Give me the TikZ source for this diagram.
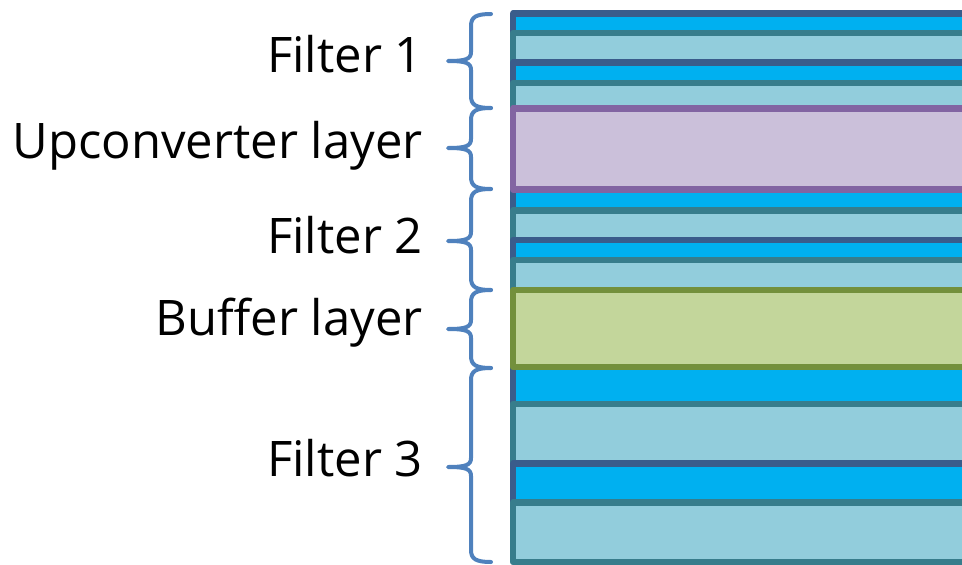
\documentclass[tikz,border=0pt]{standalone}
\usepackage{fontspec}
\setmainfont{Open Sans}
\definecolor{brightblue}{HTML}{00B0F0}
\definecolor{darkedge}{HTML}{3A5C8B}
\definecolor{lightblue}{HTML}{92CDDC}
\definecolor{tealedge}{HTML}{377D8C}
\definecolor{lavender}{HTML}{CBC0DA}
\definecolor{purpleedge}{HTML}{8264A2}
\definecolor{greenfill}{HTML}{C3D69B}
\definecolor{oliveedge}{HTML}{73903C}
\definecolor{bracecol}{HTML}{4F81BD}
\tikzset{
  layer/.style={line width=6.5pt, line join=round},
  brightlayer/.style={layer, fill=brightblue, draw=darkedge},
  lightlayer/.style={layer, fill=lightblue, draw=tealedge},
  upconv/.style={layer, fill=lavender, draw=purpleedge},
  bufferl/.style={layer, fill=greenfill, draw=oliveedge},
  bracestyle/.style={draw=bracecol, line width=4pt, line cap=round, line join=round},
  lbl/.style={anchor=base east, inner sep=0pt, font=\fontsize{49}{57}\selectfont}
}
\newcommand{\drawlayerbrace}[3]{%
  \draw[bracestyle] (491,#1) .. controls (476,#1) and (471,#1+3) .. (471,#1+12)
    -- (471,#3-9) .. controls (471,#3-2) and (466,#3) .. (448,#3)
    .. controls (466,#3) and (471,#3+2) .. (471,#3+9)
    -- (471,#2-12) .. controls (471,#2-3) and (476,#2) .. (491,#2);}
\begin{document}
\begin{tikzpicture}[x=1pt,y=-1pt]
\useasboundingbox (0,0) rectangle (962,565);
\begin{scope}
\clip (0,0) rectangle (962,565);
% Filter 1
\draw[brightlayer] (513,13.5) rectangle (990,33);
\draw[lightlayer] (513,33) rectangle (990,62.5);
\draw[brightlayer] (513,62.5) rectangle (990,83);
\draw[lightlayer] (513,83) rectangle (990,108.5);
% Filter 2 first bright layer (under upconverter edge)
\draw[brightlayer] (513,189.5) rectangle (990,210.5);
% Upconverter
\draw[upconv] (513,108.5) rectangle (990,189.5);
% Filter 2
\draw[lightlayer] (513,210.5) rectangle (990,240);
\draw[brightlayer] (513,240) rectangle (990,260);
\draw[lightlayer] (513,260) rectangle (990,290);
% Filter 3 first bright layer (under buffer edge)
\draw[brightlayer] (513,367) rectangle (990,404);
% Buffer
\draw[bufferl] (513,290) rectangle (990,367);
% Filter 3
\draw[lightlayer] (513,404) rectangle (990,463.5);
\draw[brightlayer] (513,463.5) rectangle (990,502.5);
\draw[lightlayer] (513,502.5) rectangle (990,562);
\end{scope}
% braces
\drawlayerbrace{14}{108}{61}
\drawlayerbrace{108}{189}{148}
\drawlayerbrace{189}{290}{241}
\drawlayerbrace{290}{368}{329}
\drawlayerbrace{368}{562}{467}
% labels
\node[lbl] (f1) at (423,72.7) {Filter 1};
\node[lbl] (up) at (423,158.3) {Upconverter layer};
\node[lbl] (f2) at (423,253.3) {Filter 2};
\node[lbl] (buf) at (423,335) {Buffer layer};
\node[lbl] (f3) at (423,476.7) {Filter 3};
\end{tikzpicture}
\end{document}
